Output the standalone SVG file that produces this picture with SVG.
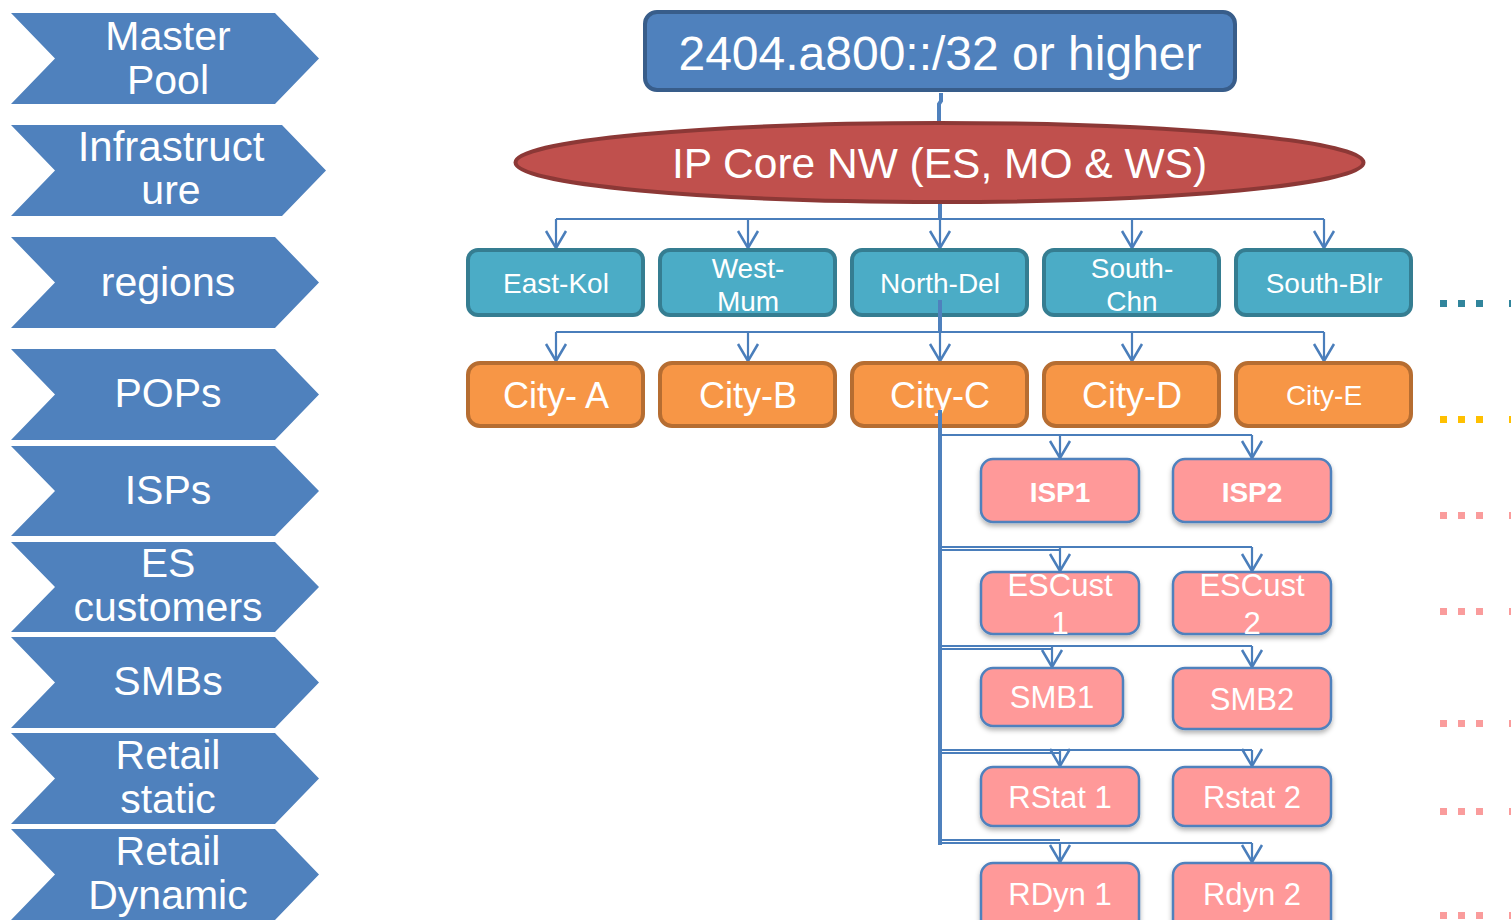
<svg xmlns="http://www.w3.org/2000/svg" width="1511" height="920" viewBox="0 0 1511 920">
  <style>
    text { font-family: "Liberation Sans", Arial, sans-serif; fill: #ffffff; text-anchor: middle; }
    .chev { fill: #4F81BD; }
    .chev-t { font-size: 41px; }
    .region { fill: #4BACC6; stroke: #357D91; stroke-width: 4; }
    .region-t { font-size: 28px; }
    .city { fill: #F79646; stroke: #B66D31; stroke-width: 4; }
    .city-t { font-size: 36px; }
    .leaf { fill: #FF9999; stroke: #4F81BD; stroke-width: 2.5; filter: url(#shadow); }
    .leaf-t { font-size: 31px; }
    .thin { fill: none; stroke: #4A7EBB; stroke-width: 2.2; }
    .thin-a { fill: none; stroke: #4A7EBB; stroke-width: 2.2; marker-end: url(#vee); }
    .thick { fill: none; stroke: #4F81BD; stroke-width: 4; }
  </style>
  <defs>
    <marker id="vee" markerUnits="userSpaceOnUse" viewBox="0 0 22 24" markerWidth="22" markerHeight="24" refX="19" refY="12" orient="auto">
      <path d="M2,2 L19,12 L2,22" fill="none" stroke="#4A7EBB" stroke-width="2.5"/>
    </marker>
    <filter id="shadow" x="-10%" y="-10%" width="120%" height="140%">
      <feDropShadow dx="0" dy="3" stdDeviation="2.5" flood-color="#000000" flood-opacity="0.3"/>
    </filter>
  </defs>

  <rect width="1511" height="920" fill="#ffffff"/>

  <!-- level chevrons down the left side -->
  <g id="chevrons">
    <g id="lvl-master">
      <path class="chev" d="M11,13 L275,13 L319,58.5 L275,104 L11,104 L55,58.5 Z"/>
      <text class="chev-t" x="168" y="50">Master</text>
      <text class="chev-t" x="168" y="94">Pool</text>
    </g>
    <g id="lvl-infra">
      <path class="chev" d="M11,125 L282,125 L326,170.5 L282,216 L11,216 L55,170.5 Z"/>
      <text class="chev-t" x="171" y="161" style="font-size:42px">Infrastruct</text>
      <text class="chev-t" x="171" y="204">ure</text>
    </g>
    <g id="lvl-regions">
      <path class="chev" d="M11,237 L275,237 L319,282.5 L275,328 L11,328 L55,282.5 Z"/>
      <text class="chev-t" x="168" y="296">regions</text>
    </g>
    <g id="lvl-pops">
      <path class="chev" d="M11,349 L275,349 L319,394.5 L275,440 L11,440 L55,394.5 Z"/>
      <text class="chev-t" x="168" y="407">POPs</text>
    </g>
    <g id="lvl-isps">
      <path class="chev" d="M11,446 L275,446 L319,491 L275,536 L11,536 L55,491 Z"/>
      <text class="chev-t" x="168" y="504">ISPs</text>
    </g>
    <g id="lvl-es">
      <path class="chev" d="M11,542 L275,542 L319,587 L275,632 L11,632 L55,587 Z"/>
      <text class="chev-t" x="168" y="577">ES</text>
      <text class="chev-t" x="168" y="621">customers</text>
    </g>
    <g id="lvl-smbs">
      <path class="chev" d="M11,637 L275,637 L319,682.5 L275,728 L11,728 L55,682.5 Z"/>
      <text class="chev-t" x="168" y="695">SMBs</text>
    </g>
    <g id="lvl-rstatic">
      <path class="chev" d="M11,733 L275,733 L319,778.5 L275,824 L11,824 L55,778.5 Z"/>
      <text class="chev-t" x="168" y="769">Retail</text>
      <text class="chev-t" x="168" y="813">static</text>
    </g>
    <g id="lvl-rdyn">
      <path class="chev" d="M11,829 L275,829 L319,874.5 L275,920 L11,920 L55,874.5 Z"/>
      <text class="chev-t" x="168" y="865">Retail</text>
      <text class="chev-t" x="168" y="909">Dynamic</text>
    </g>
  </g>

  <!-- connectors -->
  <g id="connectors">
    <path class="thick" d="M941,93 L941,101 L939,104 L939,123"/>
    <path class="thick" d="M940,187 L940,220"/>
    <!-- core to regions -->
    <path class="thin" d="M556,219 L1324,219"/>
    <path class="thin-a" d="M556,219 L556,248"/>
    <path class="thin-a" d="M748,219 L748,248"/>
    <path class="thin-a" d="M940,219 L940,248"/>
    <path class="thin-a" d="M1132,219 L1132,248"/>
    <path class="thin-a" d="M1324,219 L1324,248"/>
    <!-- North-Del to cities -->
    <path class="thick" d="M940,300 L940,332"/>
    <path class="thin" d="M556,332 L1324,332"/>
    <path class="thin-a" d="M556,332 L556,361"/>
    <path class="thin-a" d="M748,332 L748,361"/>
    <path class="thin-a" d="M940,332 L940,361"/>
    <path class="thin-a" d="M1132,332 L1132,361"/>
    <path class="thin-a" d="M1324,332 L1324,361"/>
    <!-- City-C trunk -->
    <path class="thick" d="M940,410 L940,845"/>
    <!-- ISPs -->
    <path class="thin" d="M940,435 L1252,435"/>
    <path class="thin-a" d="M1060,435 L1060,458"/>
    <path class="thin-a" d="M1252,435 L1252,458"/>
    <!-- ES customers -->
    <path class="thin" d="M940,547 L1252,547"/>
    <path class="thin" d="M940,550 L1060,550"/>
    <path class="thin-a" d="M1060,547 L1060,571"/>
    <path class="thin-a" d="M1252,547 L1252,571"/>
    <!-- SMBs -->
    <path class="thin" d="M940,646 L1252,646"/>
    <path class="thin" d="M940,649 L1052,649"/>
    <path class="thin-a" d="M1052,646 L1052,667"/>
    <path class="thin-a" d="M1252,646 L1252,667"/>
    <!-- Retail static -->
    <path class="thin" d="M940,750 L1252,750"/>
    <path class="thin" d="M940,753 L1060,753"/>
    <path class="thin-a" d="M1060,750 L1060,766"/>
    <path class="thin-a" d="M1252,750 L1252,766"/>
    <!-- Retail dynamic -->
    <path class="thin" d="M940,843 L1252,843"/>
    <path class="thin" d="M940,840 L1060,840"/>
    <path class="thin-a" d="M1060,843 L1060,862"/>
    <path class="thin-a" d="M1252,843 L1252,862"/>
  </g>

  <!-- master pool -->
  <g id="master-pool">
    <rect x="645" y="12" width="590" height="78" rx="12" fill="#4F81BD" stroke="#385D8A" stroke-width="4"/>
    <text x="940" y="70" style="font-size:48px">2404.a800::/32 or higher</text>
  </g>

  <!-- core network -->
  <g id="ip-core">
    <ellipse cx="939.5" cy="162.5" rx="424" ry="39.5" fill="#C0504D" stroke="#8C3836" stroke-width="4"/>
    <text x="939.5" y="178" style="font-size:42.5px">IP Core NW (ES, MO &amp; WS)</text>
  </g>

  <!-- regions -->
  <g id="region-east-kol">
    <rect class="region" x="468" y="250" width="175" height="65" rx="10"/>
    <text class="region-t" x="556" y="293">East-Kol</text>
  </g>
  <g id="region-west-mum">
    <rect class="region" x="660" y="250" width="175" height="65" rx="10"/>
    <text class="region-t" x="748" y="278">West-</text>
    <text class="region-t" x="748" y="311">Mum</text>
  </g>
  <g id="region-north-del">
    <rect class="region" x="852" y="250" width="175" height="65" rx="10"/>
    <text class="region-t" x="940" y="293">North-Del</text>
  </g>
  <g id="region-south-chn">
    <rect class="region" x="1044" y="250" width="175" height="65" rx="10"/>
    <text class="region-t" x="1132" y="278">South-</text>
    <text class="region-t" x="1132" y="311">Chn</text>
  </g>
  <g id="region-south-blr">
    <rect class="region" x="1236" y="250" width="175" height="65" rx="10"/>
    <text class="region-t" x="1324" y="293">South-Blr</text>
  </g>
  <!-- trunk stub drawn over North-Del -->
  <path class="thick" d="M940,300 L940,318"/>

  <!-- cities -->
  <g id="city-a">
    <rect class="city" x="468" y="363" width="175" height="63" rx="12"/>
    <text class="city-t" x="556" y="408">City- A</text>
  </g>
  <g id="city-b">
    <rect class="city" x="660" y="363" width="175" height="63" rx="12"/>
    <text class="city-t" x="748" y="408">City-B</text>
  </g>
  <g id="city-c">
    <rect class="city" x="852" y="363" width="175" height="63" rx="12"/>
    <text class="city-t" x="940" y="408">City-C</text>
  </g>
  <g id="city-d">
    <rect class="city" x="1044" y="363" width="175" height="63" rx="12"/>
    <text class="city-t" x="1132" y="408">City-D</text>
  </g>
  <g id="city-e">
    <rect class="city" x="1236" y="363" width="175" height="63" rx="12"/>
    <text x="1324" y="405" style="font-size:28px">City-E</text>
  </g>
  <!-- trunk stub drawn over City-C -->
  <path class="thick" d="M940,410 L940,430"/>

  <!-- ISPs -->
  <g id="isp1">
    <rect class="leaf" x="981" y="459" width="158" height="63" rx="12"/>
    <text x="1060" y="502" style="font-size:28px;font-weight:bold">ISP1</text>
  </g>
  <g id="isp2">
    <rect class="leaf" x="1173" y="459" width="158" height="63" rx="12"/>
    <text x="1252" y="502" style="font-size:28px;font-weight:bold">ISP2</text>
  </g>

  <!-- ES customers -->
  <g id="escust1">
    <rect class="leaf" x="981" y="572" width="158" height="62" rx="12"/>
    <text class="leaf-t" x="1060" y="596">ESCust</text>
    <text class="leaf-t" x="1060" y="634">1</text>
  </g>
  <g id="escust2">
    <rect class="leaf" x="1173" y="572" width="158" height="62" rx="12"/>
    <text class="leaf-t" x="1252" y="596">ESCust</text>
    <text class="leaf-t" x="1252" y="634">2</text>
  </g>

  <!-- SMBs -->
  <g id="smb1">
    <rect class="leaf" x="981" y="668" width="142" height="58" rx="12"/>
    <text class="leaf-t" x="1052" y="708">SMB1</text>
  </g>
  <g id="smb2">
    <rect class="leaf" x="1173" y="668" width="158" height="61" rx="12"/>
    <text class="leaf-t" x="1252" y="710">SMB2</text>
  </g>

  <!-- retail static -->
  <g id="rstat1">
    <rect class="leaf" x="981" y="767" width="158" height="59" rx="12"/>
    <text class="leaf-t" x="1060" y="808">RStat 1</text>
  </g>
  <g id="rstat2">
    <rect class="leaf" x="1173" y="767" width="158" height="59" rx="12"/>
    <text class="leaf-t" x="1252" y="808">Rstat 2</text>
  </g>

  <!-- retail dynamic -->
  <g id="rdyn1">
    <rect class="leaf" x="981" y="863" width="158" height="70" rx="12"/>
    <text class="leaf-t" x="1060" y="905">RDyn 1</text>
  </g>
  <g id="rdyn2">
    <rect class="leaf" x="1173" y="863" width="158" height="70" rx="12"/>
    <text class="leaf-t" x="1252" y="905">Rdyn 2</text>
  </g>

  <!-- continuation dots at the right edge -->
  <g id="continuation">
    <g fill="#31859C">
      <rect x="1440" y="300" width="7" height="7"/><rect x="1458" y="300" width="7" height="7"/><rect x="1476" y="300" width="7" height="7"/><rect x="1509" y="300" width="7" height="7"/>
    </g>
    <g fill="#FFC000">
      <rect x="1440" y="416" width="7" height="7"/><rect x="1458" y="416" width="7" height="7"/><rect x="1476" y="416" width="7" height="7"/><rect x="1509" y="416" width="7" height="7"/>
    </g>
    <g fill="#FA9C9C">
      <rect x="1440" y="512" width="7" height="7"/><rect x="1458" y="512" width="7" height="7"/><rect x="1476" y="512" width="7" height="7"/><rect x="1509" y="512" width="7" height="7"/>
      <rect x="1440" y="608" width="7" height="7"/><rect x="1458" y="608" width="7" height="7"/><rect x="1476" y="608" width="7" height="7"/><rect x="1509" y="608" width="7" height="7"/>
      <rect x="1440" y="720" width="7" height="7"/><rect x="1458" y="720" width="7" height="7"/><rect x="1476" y="720" width="7" height="7"/><rect x="1509" y="720" width="7" height="7"/>
      <rect x="1440" y="808" width="7" height="7"/><rect x="1458" y="808" width="7" height="7"/><rect x="1476" y="808" width="7" height="7"/><rect x="1509" y="808" width="7" height="7"/>
      <rect x="1440" y="912" width="7" height="7"/><rect x="1458" y="912" width="7" height="7"/><rect x="1476" y="912" width="7" height="7"/><rect x="1509" y="912" width="7" height="7"/>
    </g>
  </g>
</svg>
